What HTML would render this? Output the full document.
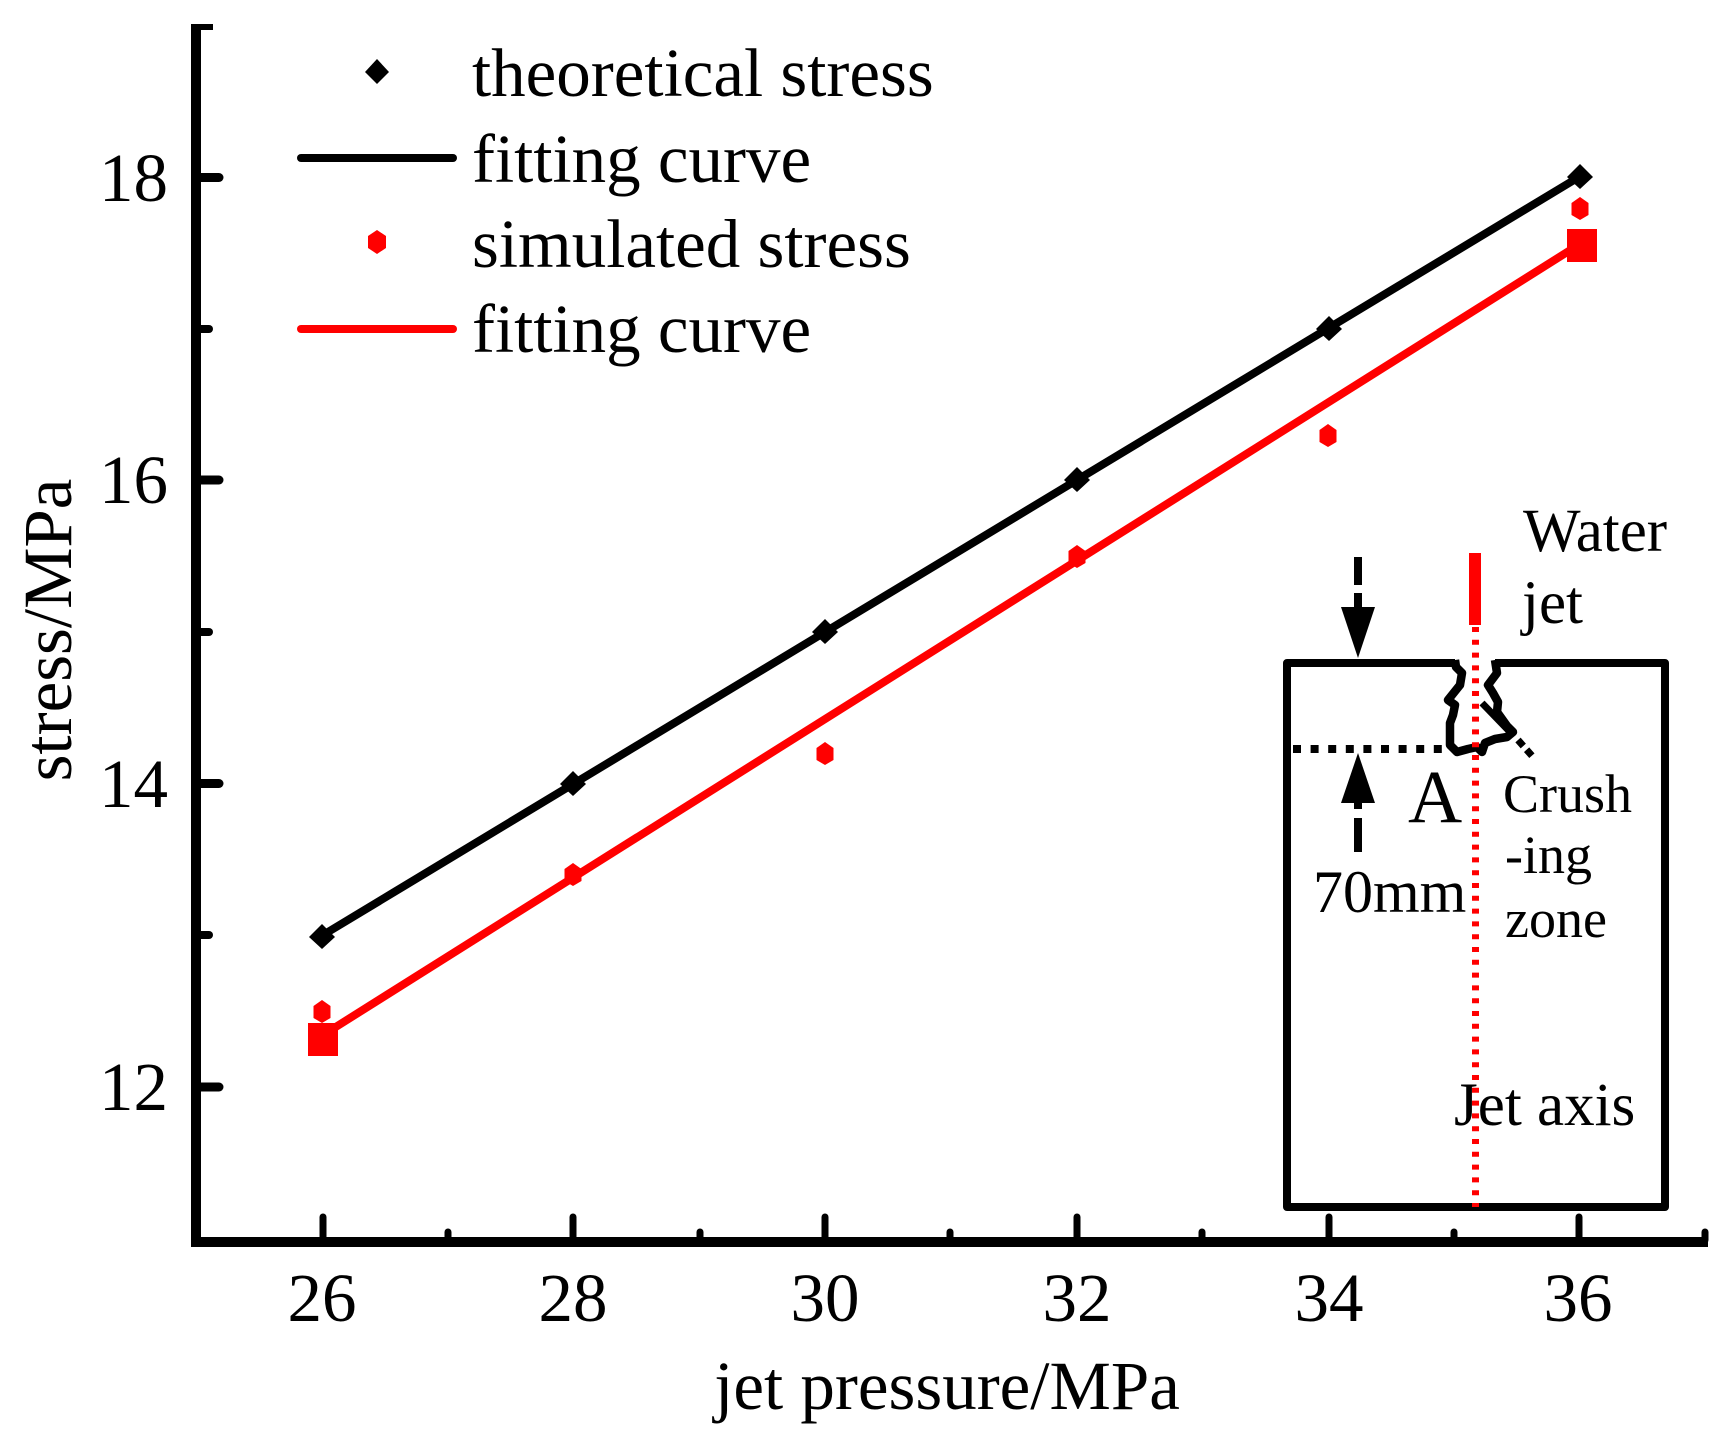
<!DOCTYPE html>
<html>
<head>
<meta charset="utf-8">
<style>
html,body{margin:0;padding:0;background:#fff;}
svg{display:block;}
text{font-family:"Liberation Serif","Times New Roman",serif;fill:#000;}
</style>
</head>
<body>
<svg width="1736" height="1447" viewBox="0 0 1736 1447" xmlns="http://www.w3.org/2000/svg">
<rect x="0" y="0" width="1736" height="1447" fill="#fff"/>

<!-- Axes -->
<rect x="191" y="24" width="10" height="1223" fill="#000"/>
<rect x="191" y="24" width="22" height="6" fill="#000"/>
<rect x="191" y="1237" width="1517" height="10" fill="#000"/>

<!-- Y ticks -->
<g stroke="#000" stroke-linecap="round">
  <line x1="196" y1="1087" x2="219" y2="1087" stroke-width="9"/>
  <line x1="196" y1="783.5" x2="219" y2="783.5" stroke-width="9"/>
  <line x1="196" y1="480" x2="219" y2="480" stroke-width="9"/>
  <line x1="196" y1="177.5" x2="219" y2="177.5" stroke-width="9"/>
  <line x1="196" y1="935" x2="209" y2="935" stroke-width="8"/>
  <line x1="196" y1="632" x2="209" y2="632" stroke-width="8"/>
  <line x1="196" y1="329" x2="209" y2="329" stroke-width="8"/>
</g>
<!-- X ticks -->
<g stroke="#000" stroke-linecap="round">
  <line x1="323" y1="1240" x2="323" y2="1217" stroke-width="7"/>
  <line x1="573" y1="1240" x2="573" y2="1217" stroke-width="7"/>
  <line x1="825" y1="1240" x2="825" y2="1217" stroke-width="7"/>
  <line x1="1077" y1="1240" x2="1077" y2="1217" stroke-width="7"/>
  <line x1="1329" y1="1240" x2="1329" y2="1217" stroke-width="7"/>
  <line x1="1579" y1="1240" x2="1579" y2="1217" stroke-width="7"/>
  <line x1="448" y1="1240" x2="448" y2="1232" stroke-width="7"/>
  <line x1="700" y1="1240" x2="700" y2="1232" stroke-width="7"/>
  <line x1="950" y1="1240" x2="950" y2="1232" stroke-width="7"/>
  <line x1="1202" y1="1240" x2="1202" y2="1232" stroke-width="7"/>
  <line x1="1454" y1="1240" x2="1454" y2="1232" stroke-width="7"/>
  <line x1="1705" y1="1240" x2="1705" y2="1232" stroke-width="7"/>
</g>

<!-- Y tick labels -->
<g font-size="69" text-anchor="end">
  <text x="168" y="1110">12</text>
  <text x="168" y="807">14</text>
  <text x="168" y="503">16</text>
  <text x="168" y="201">18</text>
</g>
<!-- X tick labels -->
<g font-size="69" text-anchor="middle">
  <text x="322" y="1321">26</text>
  <text x="573" y="1321">28</text>
  <text x="825" y="1321">30</text>
  <text x="1077" y="1321">32</text>
  <text x="1329" y="1321">34</text>
  <text x="1578" y="1321">36</text>
</g>

<!-- Axis titles -->
<text x="947" y="1409" font-size="69" text-anchor="middle">jet pressure/MPa</text>
<text transform="translate(71,630) rotate(-90)" font-size="69" text-anchor="middle">stress/MPa</text>

<!-- Fitting lines -->
<line x1="323" y1="935" x2="1579" y2="177" stroke="#000" stroke-width="8"/>
<line x1="323" y1="1035" x2="1580" y2="244" stroke="#ff0000" stroke-width="8"/>

<!-- Red end squares -->
<rect x="308" y="1023" width="30" height="33" fill="#ff0000"/>
<rect x="1567" y="229" width="30" height="33" fill="#ff0000"/>

<!-- Theoretical markers (diamonds) -->
<g fill="#000">
  <polygon points="322,924 335,937 322,949 309,937"/>
  <polygon points="573,771 586,784 573,796 560,784"/>
  <polygon points="825,619 838,632 825,644 812,632"/>
  <polygon points="1077,467 1090,480 1077,492 1064,480"/>
  <polygon points="1329,316 1342,329 1329,341 1316,329"/>
  <polygon points="1580,164 1593,177 1580,189 1567,177"/>
</g>
<!-- Simulated markers (hexagons) -->
<g fill="#ff0000">
  <polygon points="322,1000 330.5,1006 330.5,1018 322,1023 313.5,1018 313.5,1006"/>
  <polygon points="573,863 581.5,869 581.5,881 573,886 564.5,881 564.5,869"/>
  <polygon points="825,742 833.5,748 833.5,760 825,765 816.5,760 816.5,748"/>
  <polygon points="1077,545 1085.5,551 1085.5,563 1077,568 1068.5,563 1068.5,551"/>
  <polygon points="1328,424 1336.5,430 1336.5,442 1328,447 1319.5,442 1319.5,430"/>
  <polygon points="1580,197 1588.5,203 1588.5,215 1580,220 1571.5,215 1571.5,203"/>
</g>

<!-- Legend -->
<polygon points="377,59 389,72 377,84 365,72" fill="#000"/>
<line x1="301" y1="158" x2="453" y2="158" stroke="#000" stroke-width="8" stroke-linecap="round"/>
<polygon points="377,230 386,236 386,248 377,254 368,248 368,236" fill="#ff0000"/>
<line x1="301" y1="329" x2="453" y2="329" stroke="#ff0000" stroke-width="8" stroke-linecap="round"/>
<g font-size="69">
  <text x="472" y="96">theoretical stress</text>
  <text x="472" y="182">fitting curve</text>
  <text x="472" y="267">simulated stress</text>
  <text x="472" y="352">fitting curve</text>
</g>

<!-- Inset diagram -->
<g fill="none" stroke="#000" stroke-width="8" stroke-linejoin="round">
  <path d="M1455,663 L1287,663 L1287,1207 L1665,1207 L1665,663 L1495,663"/>
  <path d="M1455,660 L1456,667 L1462,673 L1460,685 L1448,700 L1455,705 L1453,715 L1450,723 L1450,745 L1457,752 L1468,749 L1477,747 L1482,752 L1485,743 L1495,739 L1507,737 L1513,732 L1507,726 L1497,712 L1498,702 L1493,693 L1488,685 L1497,673 L1495,660" stroke-width="8.5"/>
</g>
<!-- crush leader -->
<line x1="1482" y1="703" x2="1510" y2="732" stroke="#000" stroke-width="7"/>
<line x1="1518" y1="740" x2="1533" y2="757" stroke="#000" stroke-width="7" stroke-dasharray="8,5"/>
<!-- dotted horizontal -->
<line x1="1293" y1="749" x2="1450" y2="749" stroke="#000" stroke-width="8" stroke-dasharray="8,9.6"/>
<!-- red dotted axis -->
<line x1="1475.5" y1="627" x2="1475.5" y2="1207" stroke="#ff0000" stroke-width="7" stroke-dasharray="5,7.8"/>
<!-- red water jet -->
<line x1="1475" y1="553" x2="1475" y2="625" stroke="#ff0000" stroke-width="12"/>
<!-- down arrow -->
<line x1="1358" y1="557" x2="1358" y2="585" stroke="#000" stroke-width="8"/>
<line x1="1358" y1="593" x2="1358" y2="610" stroke="#000" stroke-width="8"/>
<polygon points="1341,607 1375,607 1358,658" fill="#000"/>
<!-- up arrow -->
<polygon points="1358,753 1375,803 1341,803" fill="#000"/>
<line x1="1358" y1="800" x2="1358" y2="809" stroke="#000" stroke-width="8"/>
<line x1="1358" y1="818" x2="1358" y2="852" stroke="#000" stroke-width="8"/>

<!-- inset texts -->
<text x="1523" y="551" font-size="61">Water</text>
<text x="1522" y="623" font-size="61">jet</text>
<text x="1408" y="822" font-size="75">A</text>
<text x="1503" y="812" font-size="54">Crush</text>
<text x="1505" y="873" font-size="54">-ing</text>
<text x="1505" y="937" font-size="54">zone</text>
<text x="1313" y="912" font-size="60">70mm</text>
<text x="1454" y="1125" font-size="61">Jet axis</text>
</svg>
</body>
</html>
